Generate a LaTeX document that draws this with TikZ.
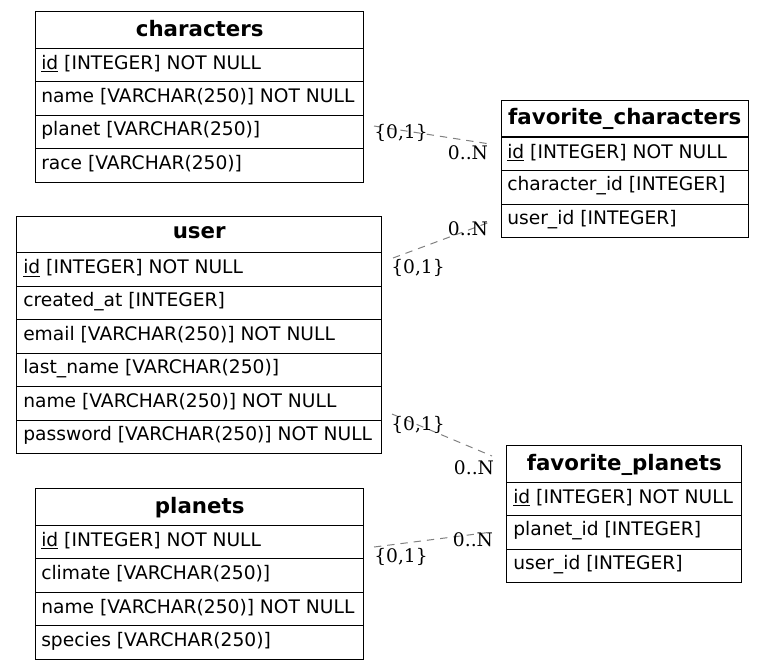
\documentclass[tikz,border=0pt]{standalone}
\usepackage{fontspec}
\setmainfont{DejaVu Sans}
\newfontfamily\lblfont{DejaVu Serif}
\def\px{0.75pt}
\tikzset{
  x=0.75pt, y=-0.75pt,
  cellbox/.style={draw=black, line width=1.1pt, anchor=north west, inner sep=0pt, minimum height=#1*\px},
  hdr/.style={cellbox=36.5, font=\fontsize{16pt}{18pt}\selectfont\bfseries, align=center, text depth=2.5pt},
  rowtxt/.style={anchor=west, inner sep=0pt, font=\fontsize{14pt}{16pt}\selectfont},
  rel/.style={draw=gray, dash pattern=on 5.5pt off 4.5pt, line width=0.75pt},
  card/.style={inner sep=0pt, font=\lblfont\fontsize{14pt}{16pt}\selectfont},
}
\newcommand\uid{\underline{id}}
\begin{document}
\begin{tikzpicture}
\useasboundingbox (0,0) rectangle (763,669);
% characters
\node[hdr, minimum width=328*\px] (ch) at (35,11) {characters};
\node[cellbox=33.5, minimum width=328*\px] (ch1) at (35,47.5) {};
\node[cellbox=33.5, minimum width=328*\px] (ch2) at (35,81) {};
\node[cellbox=33.5, minimum width=328*\px] (ch3) at (35,114.5) {};
\node[cellbox=33.5, minimum width=328*\px] (ch4) at (35,148) {};
\node[rowtxt] (ch1t) at (41,63.5) {\uid{} [INTEGER] NOT NULL};
\node[rowtxt] (ch2t) at (41,97) {name [VARCHAR(250)] NOT NULL};
\node[rowtxt] (ch3t) at (41,130.5) {planet [VARCHAR(250)]};
\node[rowtxt] (ch4t) at (41,164) {race [VARCHAR(250)]};
% favorite_characters
\node[hdr, minimum width=247*\px] (fc) at (500.5,99.5) {favorite\_characters};
\node[cellbox=33.5, minimum width=247*\px] (fc1) at (500.5,136.5) {};
\node[cellbox=33.5, minimum width=247*\px] (fc2) at (500.5,170) {};
\node[cellbox=33.5, minimum width=247*\px] (fc3) at (500.5,203.5) {};
\node[rowtxt] (fc1t) at (507,152.5) {\uid{} [INTEGER] NOT NULL};
\node[rowtxt] (fc2t) at (507,186) {character\_id [INTEGER]};
\node[rowtxt] (fc3t) at (507,219.5) {user\_id [INTEGER]};
% user
\node[hdr, minimum width=365*\px] (us) at (16,215.5) {user};
\node[cellbox=33.5, minimum width=365*\px] (us1) at (16,252) {};
\node[cellbox=33.5, minimum width=365*\px] (us2) at (16,285.5) {};
\node[cellbox=33.5, minimum width=365*\px] (us3) at (16,319) {};
\node[cellbox=33.5, minimum width=365*\px] (us4) at (16,352.5) {};
\node[cellbox=33.5, minimum width=365*\px] (us5) at (16,386) {};
\node[cellbox=33.5, minimum width=365*\px] (us6) at (16,419.5) {};
\node[rowtxt] (us1t) at (23,268) {\uid{} [INTEGER] NOT NULL};
\node[rowtxt] (us2t) at (23,301.5) {created\_at [INTEGER]};
\node[rowtxt] (us3t) at (23,335) {email [VARCHAR(250)] NOT NULL};
\node[rowtxt] (us4t) at (23,368.5) {last\_name [VARCHAR(250)]};
\node[rowtxt] (us5t) at (23,402) {name [VARCHAR(250)] NOT NULL};
\node[rowtxt] (us6t) at (23,435.5) {password [VARCHAR(250)] NOT NULL};
% planets
\node[hdr, minimum width=328*\px] (pl) at (35,488) {planets};
\node[cellbox=33.5, minimum width=328*\px] (pl1) at (35,524.5) {};
\node[cellbox=33.5, minimum width=328*\px] (pl2) at (35,558) {};
\node[cellbox=33.5, minimum width=328*\px] (pl3) at (35,591.5) {};
\node[cellbox=33.5, minimum width=328*\px] (pl4) at (35,625) {};
\node[rowtxt] (pl1t) at (41,540.5) {\uid{} [INTEGER] NOT NULL};
\node[rowtxt] (pl2t) at (41,574) {climate [VARCHAR(250)]};
\node[rowtxt] (pl3t) at (41,607.5) {name [VARCHAR(250)] NOT NULL};
\node[rowtxt] (pl4t) at (41,641) {species [VARCHAR(250)]};
% favorite_planets
\node[hdr, minimum width=235*\px] (fp) at (506,445) {favorite\_planets};
\node[cellbox=33.5, minimum width=235*\px] (fp1) at (506,481.5) {};
\node[cellbox=33.5, minimum width=235*\px] (fp2) at (506,515) {};
\node[cellbox=33.5, minimum width=235*\px] (fp3) at (506,548.5) {};
\node[rowtxt] (fp1t) at (513,497.5) {\uid{} [INTEGER] NOT NULL};
\node[rowtxt] (fp2t) at (513,531) {planet\_id [INTEGER]};
\node[rowtxt] (fp3t) at (513,564.5) {user\_id [INTEGER]};
% relation endpoints
\coordinate (e1a) at (374,126); \coordinate (e1b) at (490,144);
\coordinate (e2a) at (393,258); \coordinate (e2b) at (490,222);
\coordinate (e3a) at (392,414); \coordinate (e3b) at (492,456);
\coordinate (e4a) at (374,547); \coordinate (e4b) at (492,532);
\draw[rel] (e1a) -- (e1b);
\draw[rel] (e2a) -- (e2b);
\draw[rel] (e3a) -- (e3b);
\draw[rel] (e4a) -- (e4b);
% cardinalities
\node[card] (c1a) at (401,133) {\{0,1\}};
\node[card] (c1b) at (468,153) {0..N};
\node[card] (c2a) at (418,268) {\{0,1\}};
\node[card] (c2b) at (468,229) {0..N};
\node[card] (c3a) at (418,425) {\{0,1\}};
\node[card] (c3b) at (474,468) {0..N};
\node[card] (c4a) at (401,557) {\{0,1\}};
\node[card] (c4b) at (473,540) {0..N};
\end{tikzpicture}
\end{document}
